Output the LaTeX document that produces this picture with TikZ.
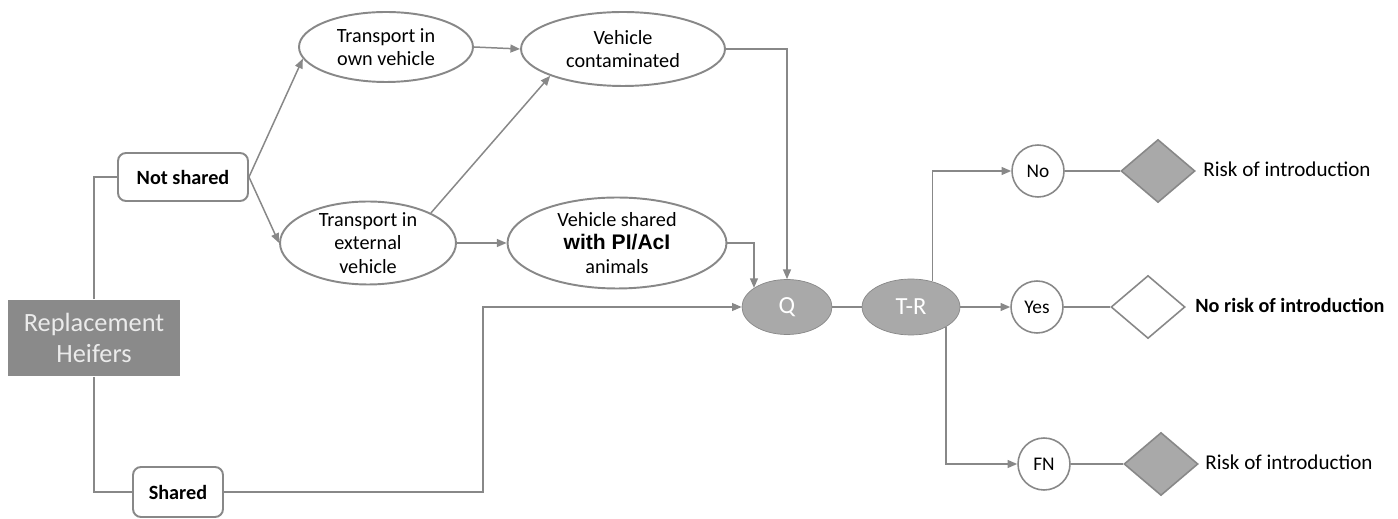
\documentclass[tikz,border=0pt]{standalone}
\usepackage{fontspec}
\setmainfont{Carlito}
\newfontfamily\arialbold{Liberation Sans}
\usetikzlibrary{arrows.meta,shapes.geometric}
\definecolor{linegray}{HTML}{888888}
\definecolor{boxgray}{HTML}{8A8A8A}
\definecolor{fillgray}{HTML}{A9A9A9}

\begin{document}
\begin{tikzpicture}[x=0.02cm,y=-0.02cm,
    conn/.style={draw=linegray, line width=0.85pt},
    arr/.style={conn, -{Triangle[length=5.5pt,width=4.5pt]}},
    ovalsize/.style 2 args={minimum width=#1cm, minimum height=#2cm},
    oval/.style={ellipse, draw=linegray, line width=1.1pt, inner xsep=0pt,
        inner ysep=-6pt, align=center, font=\fontsize{11.5}{13.5}\selectfont},
    rbox/.style={draw=linegray, line width=1.1pt, rounded corners=0.16cm,
        fill=white, font=\bfseries\fontsize{11.5}{13}\selectfont},
    gray oval/.style={ellipse, draw=linegray, fill=fillgray, text=white,
        inner sep=0pt, font=\fontsize{14}{16}\selectfont},
    ans/.style={circle, draw=linegray, line width=0.9pt, minimum size=1.04cm,
        inner sep=0pt, font=\fontsize{11}{13}\selectfont},
    dia/.style={diamond, draw=linegray, line width=0.9pt, minimum width=1.48cm,
        minimum height=1.26cm, inner sep=0pt}]

    \useasboundingbox (0,0) rectangle (1398,519);

    % left part
    \node [fill=boxgray, text=black!8, align=center, minimum width=3.46cm,
        minimum height=1.54cm, inner sep=0pt, font=\fontsize{15}{18}\selectfont]
        (rep) at (94,338) {Replacement\\Heifers};
    \node [rbox, minimum width=2.6cm, minimum height=0.96cm] (notsh) at (183,177) {Not shared};
    \node [rbox, minimum width=1.8cm, minimum height=1.0cm] (shared) at (178,492) {Shared};

    % transport
    \node [oval, ovalsize={3.48}{1.4}] (own) at (386,47) {Transport in\\own vehicle};
    \node [oval, ovalsize={4.08}{1.48}] (cont) at (623,49) {Vehicle\\contaminated};
    \node [oval, ovalsize={3.52}{1.66}] (ext) at (368,243) {Transport in\\external\\vehicle};
    \node [oval, ovalsize={4.38}{1.82}] (vsh) at (617,243)
        {Vehicle shared\\{\arialbold\bfseries\fontsize{12}{13.5}\selectfont with PI/AcI}\\animals};

    % test
    \node [gray oval, ovalsize={1.8}{1.1}] (q) at (787,307) {Q};
    \node [gray oval, ovalsize={1.96}{1.12}] (tr) at (911,307) {T-R};
    \coordinate (sh turn) at (483,307);

    % outcomes
    \foreach \nm/\cy/\cx/\lab/\dx/\dfill/\tx/\txt in {
        no/171/1038/No/1158/fillgray/1203/{Risk of introduction},
        yes/307/1037/Yes/1148/white/1195/{\fontsize{11.5}{13}\selectfont\textbf{No risk of introduction}},
        fn/464/1044/FN/1161/fillgray/1205/{Risk of introduction}} {
        \node [ans] (\nm) at (\cx,\cy) {\lab};
        \node [dia, fill=\dfill] (\nm dia) at (\dx,\cy) {};
        \node [anchor=west, inner sep=0pt, font=\fontsize{12}{14}\selectfont]
            (\nm txt) at (\tx,\cy-2) {\txt};
        \draw [conn] (\nm) -- (\nm dia);
    }

    \draw [conn] (rep.north) |- (notsh.west);
    \draw [conn] (rep.south) |- (shared.west);
    \draw [arr] (notsh.east) -- (own.188);
    \draw [arr] (notsh.east) -- (ext.west);
    \draw [arr] (own.east) -- (cont.west);
    \draw [arr] (ext.north east) -- (cont.south west);
    \draw [arr] (ext.east) -- (vsh.west);
    \draw [arr] (cont.east) -| (q.north);
    \draw [arr] (vsh.east) -| (q.150);
    \draw [arr] (shared.east) -| (sh turn) -- (q.west);
    \draw [conn] (q.east) -- (tr.west);
    \draw [arr] (tr.50) |- (no.west);
    \draw [arr] (tr.east) -- (yes.west);
    \draw [arr] (tr.-30) |- (fn.west);
\end{tikzpicture}
\end{document}
